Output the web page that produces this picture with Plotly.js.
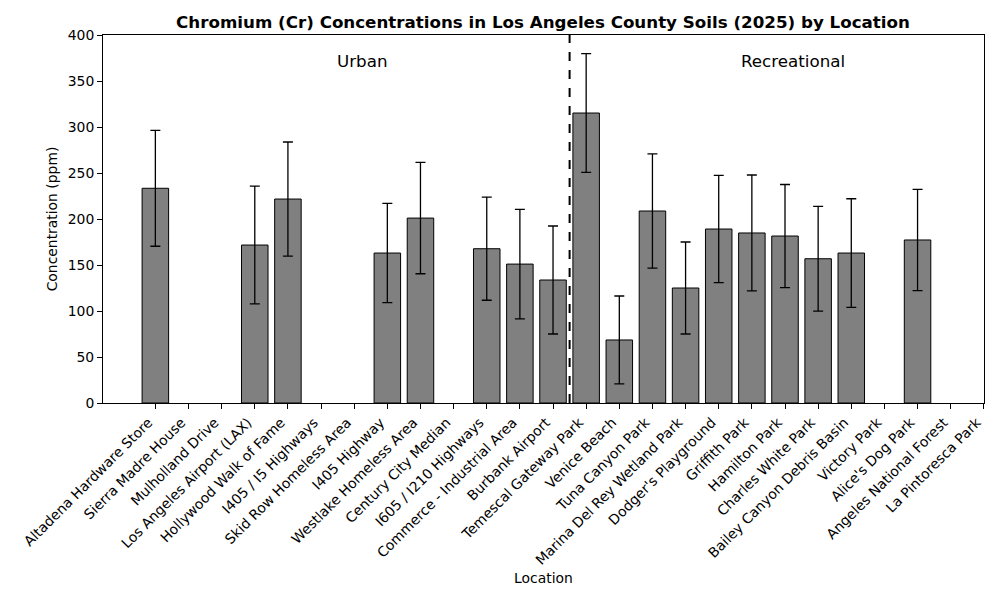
<!DOCTYPE html>
<html>
<head>
<meta charset="utf-8">
<script src="https://cdn.plot.ly/plotly-3.0.1.min.js"></script>
<style>html,body{margin:0;padding:0;background:#fff;}#chart{width:1000px;height:600px;}</style>
</head>
<body>
<div id="chart"></div>
<script>
const locations = [
  "Altadena Hardware Store", "Sierra Madre House", "Mulholland Drive", "Los Angeles Airport (LAX)",
  "Hollywood Walk of Fame", "I405 / I5 Highways", "Skid Row Homeless Area", "I405 Highway",
  "Westlake Homeless Area", "Century City Median", "I605 / I210 Highways", "Commerce - Industrial Area",
  "Burbank Airport", "Temescal Gateway Park", "Venice Beach", "Tuna Canyon Park",
  "Marina Del Rey Wetland Park", "Dodger's Playground", "Griffith Park", "Hamilton Park",
  "Charles White Park", "Bailey Canyon Debris Basin", "Victory Park", "Alice's Dog Park",
  "Angeles National Forest", "La Pintoresca Park"
];
const meanCr = [233.4, null, null, 171.7, 221.7, null, null, 163.0, 201.0, null, 167.7, 151.0, 133.7,
  315.2, 68.5, 208.7, 125.0, 189.1, 184.8, 181.5, 156.8, 163.0, null, 177.2, null, null];
const errCr = [63.0, null, null, 64.0, 62.0, null, null, 54.0, 60.5, null, 56.0, 59.5, 58.7,
  64.6, 47.8, 62.0, 50.0, 58.3, 63.0, 56.0, 57.0, 59.0, null, 55.0, null, null];
const groupNames = ["Urban", "Recreational"];
const groupSizes = [13, 13];
const yTicks = [0, 50, 100, 150, 200, 250, 300, 350, 400];

const divider = groupSizes[0] - 0.5;
const total = groupSizes[0] + groupSizes[1];
const groupCenters = [divider / 2, (divider + total) / 2];

const font = "DejaVu Sans, sans-serif";
const trace = {
  type: "bar",
  x: locations,
  y: meanCr,
  width: 0.8,
  marker: {color: "#808080", line: {color: "#000000", width: 1}},
  error_y: {type: "data", array: errCr, visible: true, color: "#000000", thickness: 1.3, width: 5},
  hoverinfo: "x+y"
};

const layout = {
  width: 1000, height: 600,
  margin: {l: 103, r: 16, t: 35, b: 197},
  paper_bgcolor: "#ffffff", plot_bgcolor: "#ffffff",
  font: {family: font, size: 13.9, color: "#000000"},
  title: {text: "<b>Chromium (Cr) Concentrations in Los Angeles County Soils (2025) by Location</b>",
    font: {family: font, size: 16.7, color: "#000"}, x: 0.543, xanchor: "center", y: 0.963, yanchor: "middle"},
  showlegend: false,
  bargap: 0.2,
  xaxis: {
    type: "category", range: [-1.58, 25.005],
    tickangle: -45, ticks: "outside", ticklen: 5, tickcolor: "#000", tickwidth: 1,
    ticklabelshift: -7,
    showline: true, linecolor: "#000", linewidth: 1, mirror: true, showgrid: false, zeroline: false,
    tickfont: {family: font, size: 13.9},
    title: {text: "Location", font: {family: font, size: 13.9}, standoff: 6}
  },
  yaxis: {
    range: [0, 400], tickvals: yTicks, ticktext: yTicks.map(String),
    ticks: "outside", ticklen: 5, tickcolor: "#000", tickwidth: 1,
    showline: true, linecolor: "#000", linewidth: 1, mirror: true, showgrid: false, zeroline: false,
    tickfont: {family: font, size: 13.9},
    title: {text: "Concentration (ppm)", font: {family: font, size: 13.9}, standoff: 6}
  },
  shapes: [{
    type: "line", xref: "x", yref: "paper", x0: divider, x1: divider, y0: 0, y1: 1,
    line: {color: "#000", width: 2, dash: "dash"}
  }],
  annotations: groupNames.map((g, i) => ({
    text: g, x: groupCenters[i], xref: "x", y: 372, yref: "y",
    xanchor: "center", yanchor: "middle", showarrow: false,
    font: {family: font, size: 16.7, color: "#000"}
  }))
};

Plotly.newPlot("chart", [trace], layout, {displayModeBar: false, staticPlot: true});
</script>
</body>
</html>
